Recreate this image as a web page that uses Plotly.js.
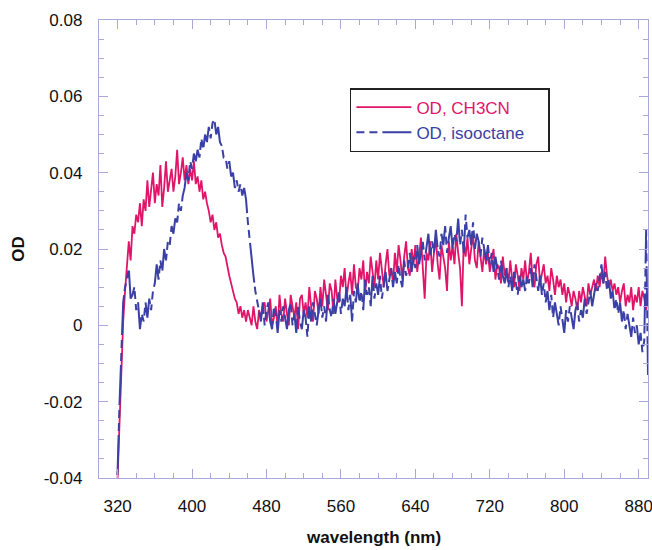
<!DOCTYPE html>
<html>
<head>
<meta charset="utf-8">
<script src="https://cdn.plot.ly/plotly-3.0.1.min.js"></script>
<style>html,body{margin:0;padding:0;background:#fff;}#chart{width:652px;height:550px;}</style>
</head>
<body>
<div id="chart"></div>
<script>
// wavelength grid: start 318 nm, step 2 nm, to 890 nm
const wlStart = 318;
const wlStep = 2;

// OD in CH3CN
const odCH3CN = [
 -0.046,-0.040,-0.026,-0.012,0.001,0.009,0.017,0.022,0.017,0.026,
 0.024,0.029,0.027,0.032,0.026,0.033,0.030,0.038,0.031,0.035,
 0.040,0.032,0.037,0.034,0.042,0.031,0.036,0.043,0.035,0.038,
 0.041,0.035,0.039,0.046,0.037,0.040,0.044,0.038,0.042,0.037,
 0.041,0.038,0.043,0.037,0.039,0.035,0.038,0.033,0.035,0.032,
 0.030,0.027,0.029,0.025,0.027,0.023,0.024,0.021,0.019,0.018,
 0.015,0.013,0.011,0.009,0.007,0.006,0.003,0.005,0.002,0.004,
 0.001,0.004,0.002,0.000,0.005,0.001,-0.001,0.004,0.002,0.005,
 0.006,0.001,0.004,0.007,0.000,0.002,0.005,-0.001,0.008,0.003,
 0.001,0.007,0.003,0.000,0.008,0.005,0.002,0.006,-0.001,0.007,
 0.008,0.003,0.006,0.002,0.010,0.005,0.001,0.009,0.007,0.003,
 0.010,0.005,0.012,0.008,0.004,0.011,0.009,0.003,0.012,0.007,
 0.006,0.013,0.010,0.015,0.007,0.011,0.014,0.008,0.016,0.010,
 0.009,0.015,0.012,0.017,0.008,0.014,0.011,0.018,0.013,0.010,
 0.017,0.012,0.019,0.014,0.010,0.016,0.020,0.013,0.015,0.011,
 0.019,0.014,0.021,0.017,0.012,0.018,0.022,0.015,0.013,0.020,
 0.016,0.021,0.014,0.018,0.023,0.015,0.007,0.019,0.017,0.022,
 0.014,0.019,0.023,0.016,0.012,0.021,0.018,0.015,0.009,0.022,
 0.017,0.021,0.016,0.024,0.019,0.015,0.005,0.022,0.018,0.023,
 0.016,0.021,0.024,0.017,0.015,0.022,0.018,0.014,0.020,0.016,
 0.019,0.014,0.017,0.020,0.012,0.016,0.015,0.011,0.018,0.013,
 0.015,0.011,0.017,0.012,0.010,0.016,0.013,0.009,0.015,0.012,
 0.017,0.011,0.014,0.019,0.012,0.010,0.016,0.018,0.011,0.014,
 0.016,0.011,0.013,0.009,0.015,0.012,0.008,0.013,0.010,0.012,
 0.008,0.011,0.006,0.010,0.008,0.005,0.009,0.007,0.004,0.009,
 0.006,0.010,0.007,0.005,0.011,0.008,0.010,0.012,0.009,0.013,
 0.010,0.014,0.011,0.018,0.013,0.010,0.012,0.009,0.011,0.008,
 0.010,0.006,0.009,0.011,0.005,0.008,0.006,0.010,0.004,0.008,
 0.006,0.010,0.005,0.009,0.007,0.004,0.008
];

// OD in isooctane
const odIsooctane = [
 -0.046,-0.038,-0.021,-0.006,0.006,0.010,0.012,0.015,0.007,0.008,
 0.010,0.004,0.006,-0.001,0.003,0.001,0.006,0.002,0.007,0.004,
 0.009,0.011,0.016,0.012,0.017,0.014,0.020,0.017,0.022,0.021,
 0.026,0.024,0.028,0.027,0.032,0.030,0.034,0.036,0.040,0.038,
 0.043,0.041,0.045,0.043,0.046,0.044,0.049,0.046,0.050,0.048,
 0.052,0.049,0.053,0.054,0.050,0.052,0.048,0.047,0.044,0.044,
 0.041,0.043,0.039,0.040,0.036,0.038,0.035,0.037,0.034,0.036,
 0.033,0.027,0.022,0.017,0.013,0.009,0.006,0.004,0.001,0.006,
 0.000,0.004,0.006,0.001,-0.001,0.005,0.003,-0.002,0.004,0.001,
 0.005,0.002,-0.001,0.004,0.006,0.000,0.003,-0.002,0.005,0.001,
 -0.001,0.004,0.002,-0.003,0.005,0.001,0.006,0.003,0.000,0.004,
 0.007,0.002,0.005,0.001,0.008,0.004,0.002,0.007,0.003,0.006,
 0.009,0.003,0.007,0.005,0.010,0.004,0.008,0.001,0.009,0.006,
 0.011,0.006,0.009,0.004,0.012,0.008,0.010,0.005,0.013,0.007,
 0.011,0.008,0.013,0.007,0.010,0.014,0.009,0.012,0.015,0.010,
 0.014,0.011,0.016,0.012,0.010,0.017,0.013,0.015,0.019,0.014,
 0.018,0.015,0.021,0.016,0.019,0.022,0.017,0.020,0.024,0.018,
 0.022,0.019,0.025,0.020,0.018,0.024,0.021,0.026,0.019,0.023,
 0.026,0.020,0.024,0.022,0.028,0.021,0.025,0.019,0.029,0.023,
 0.025,0.021,0.027,0.020,0.024,0.022,0.018,0.023,0.020,0.017,
 0.021,0.016,0.019,0.014,0.018,0.015,0.012,0.017,0.013,0.011,
 0.015,0.010,0.013,0.009,0.014,0.011,0.008,0.013,0.010,0.012,
 0.009,0.013,0.011,0.015,0.010,0.016,0.012,0.009,0.013,0.008,
 0.011,0.006,0.009,0.004,0.008,0.002,0.006,0.003,0.000,0.005,
 0.002,-0.002,0.004,0.001,0.005,0.002,-0.001,0.004,0.006,0.001,
 0.004,0.002,0.007,0.003,0.006,0.009,0.005,0.008,0.011,0.009,
 0.013,0.016,0.011,0.014,0.009,0.012,0.007,0.009,0.004,0.007,
 0.003,0.006,0.001,0.004,-0.001,0.003,0.000,-0.003,0.002,-0.002,
 0.000,-0.005,-0.002,-0.007,-0.004,0.025,-0.013
];

const yTickVals = [-0.04,-0.02,0,0.02,0.04,0.06,0.08];
const yTickText = ['-0.04','-0.02','0','0.02','0.04','0.06','0.08'];
const xTitle = 'wavelength (nm)';
const yTitle = 'OD';

const redColor = '#e0156a';
const blueColor = '#3a40a5';
const axisColor = '#a9a9d9';
const fontFam = '"Liberation Sans", Arial, Helvetica, sans-serif';

const traces = [
  {
    x0: wlStart, dx: wlStep, y: odCH3CN, type: 'scatter', mode: 'lines',
    name: '<span style="color:' + redColor + '">OD, CH3CN</span>',
    line: {color: redColor, width: 1.8}
  },
  {
    x0: wlStart, dx: wlStep, y: odIsooctane, type: 'scatter', mode: 'lines',
    name: '<span style="color:' + blueColor + '">OD, isooctane</span>\u00a0\u00a0\u00a0\u00a0',
    line: {color: blueColor, width: 2, dash: '8px,5px,8px,5px,40px,4px'}
  }
];

const layout = {
  width: 652, height: 550,
  margin: {l: 99, r: 4, t: 20, b: 72},
  paper_bgcolor: '#fff', plot_bgcolor: '#fff',
  font: {family: fontFam, size: 17, color: '#111'},
  showlegend: true,
  legend: {
    x: 0.457, y: 0.8515, xanchor: 'left', yanchor: 'top',
    bgcolor: '#fff', bordercolor: '#222', borderwidth: 1.5,
    font: {family: fontFam, size: 17},
    itemwidth: 55, tracegroupgap: 0
  },
  xaxis: {
    range: [300, 890], tickmode: 'linear', tick0: 320, dtick: 80,
    ticks: 'inside', ticklen: 9, tickwidth: 1, tickcolor: axisColor,
    showline: true, linecolor: axisColor, linewidth: 1.2, mirror: 'allticks',
    showgrid: false, zeroline: false,
    ticklabelstandoff: 12, ticklabeloverflow: 'allow',
    minor: {tickmode: 'linear', tick0: 300, dtick: 20, ticks: 'inside', ticklen: 5, tickcolor: axisColor, showgrid: false}
  },
  yaxis: {
    range: [-0.04, 0.08], tickmode: 'array', tickvals: yTickVals, ticktext: yTickText,
    ticks: 'inside', ticklen: 9, tickwidth: 1, tickcolor: axisColor,
    showline: true, linecolor: axisColor, linewidth: 1.2, mirror: 'allticks',
    showgrid: false, zeroline: false,
    ticklabelstandoff: 12,
    minor: {tickmode: 'linear', tick0: 0, dtick: 0.005, ticks: 'inside', ticklen: 5, tickcolor: axisColor, showgrid: false},
    title: {text: '<b>' + yTitle + '</b>', font: {size: 17}, standoff: 14}
  },
  annotations: [
    {text: '<b>' + xTitle + '</b>', xref: 'paper', yref: 'paper', x: 0.5, y: -0.131,
     xanchor: 'center', yanchor: 'middle', showarrow: false, font: {family: fontFam, size: 17, color: '#111'}}
  ]
};

Plotly.newPlot('chart', traces, layout, {displayModeBar: false, staticPlot: true});
</script>
</body>
</html>
